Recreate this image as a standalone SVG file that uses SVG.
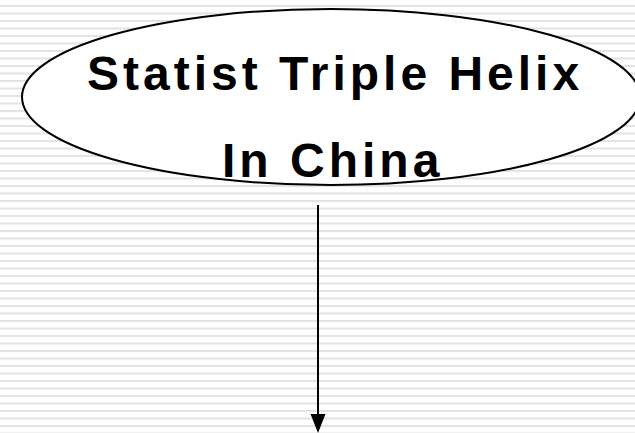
<svg xmlns="http://www.w3.org/2000/svg" width="635" height="433" viewBox="0 0 635 433">
<defs>
<pattern id="stripes" x="0" y="5" width="20" height="7.5" patternUnits="userSpaceOnUse">
<rect x="0" y="0" width="20" height="2" fill="#e2e2e2"/>
</pattern>
</defs>
<style>
.node-shape{fill:#fff;stroke:#000;stroke-width:2}
.label{font-family:"Liberation Sans",Arial,sans-serif;font-weight:bold;font-size:48px;fill:#000;letter-spacing:4px}
.edge{stroke:#000;stroke-width:2;fill:none}
</style>
<rect width="635" height="433" fill="#fff"/>
<rect width="635" height="433" fill="url(#stripes)"/>
<g id="node-statist">
<ellipse class="node-shape" cx="331" cy="97" rx="309" ry="88"/>
<text class="label" x="87" y="90">Statist Triple Helix</text>
<text class="label" x="222" y="177">In China</text>
</g>
<g id="connectors">
<line class="edge" x1="318" y1="205" x2="318" y2="415"/>
<path d="M310.5,414 L325.5,414 L318,433 Z" fill="#000"/>
</g>
</svg>
